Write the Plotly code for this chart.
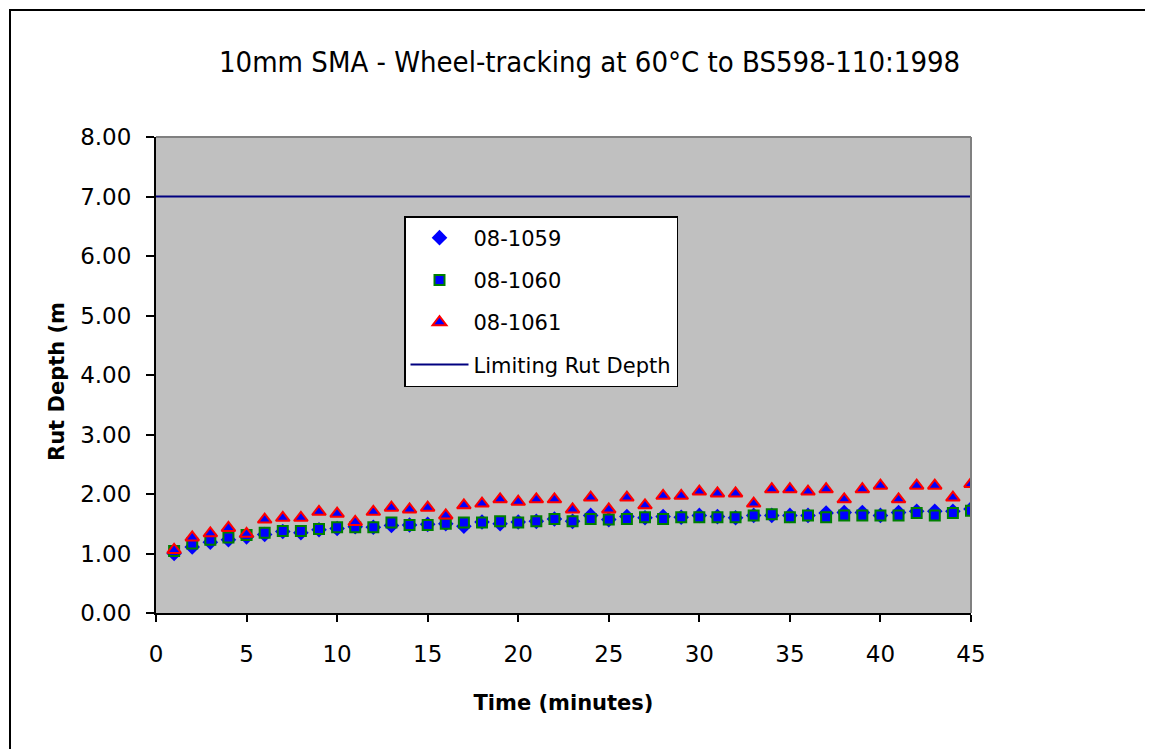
import plotly.graph_objects as go

minutes = list(range(1, 46))
s1059 = [1.00, 1.11, 1.19, 1.23, 1.28, 1.32, 1.37, 1.35, 1.40, 1.42, 1.45, 1.44, 1.47, 1.48, 1.49,
         1.50, 1.46, 1.53, 1.50, 1.53, 1.54, 1.58, 1.54, 1.64, 1.57, 1.62, 1.60, 1.62, 1.61, 1.64,
         1.62, 1.60, 1.64, 1.64, 1.64, 1.64, 1.68, 1.69, 1.69, 1.64, 1.69, 1.71, 1.71, 1.71, 1.75]
s1060 = [1.04, 1.17, 1.23, 1.27, 1.31, 1.35, 1.38, 1.38, 1.41, 1.44, 1.44, 1.44, 1.52, 1.48, 1.48,
         1.50, 1.52, 1.52, 1.54, 1.52, 1.54, 1.58, 1.54, 1.58, 1.57, 1.58, 1.61, 1.58, 1.61, 1.61,
         1.61, 1.61, 1.64, 1.66, 1.61, 1.64, 1.61, 1.64, 1.64, 1.64, 1.64, 1.68, 1.64, 1.68, 1.72]
s1061 = [1.06, 1.27, 1.34, 1.43, 1.33, 1.57, 1.60, 1.60, 1.70, 1.67, 1.53, 1.70, 1.77, 1.74, 1.77,
         1.64, 1.81, 1.84, 1.91, 1.87, 1.91, 1.91, 1.74, 1.94, 1.74, 1.94, 1.81, 1.97, 1.97, 2.04,
         2.01, 2.01, 1.84, 2.08, 2.08, 2.04, 2.08, 1.91, 2.08, 2.14, 1.91, 2.14, 2.14, 1.94, 2.17]
limit_x = [0, 45]
limit_y = [7.0, 7.0]
x_ticks = [0, 5, 10, 15, 20, 25, 30, 35, 40, 45]
y_ticks = [0, 1, 2, 3, 4, 5, 6, 7, 8]
y_ticktext = ["0.00", "1.00", "2.00", "3.00", "4.00", "5.00", "6.00", "7.00", "8.00"]

FONT = "DejaVu Sans"
W, H = 1153, 749
OFF = 8  # page body margin
# target plot area in page pixels: x 156-971, y 137-613
L = 156 - OFF
T = 137 - OFF
R = W - (971 - OFF)
B = H - (613 - OFF)
pw, ph = W - L - R, H - T - B

def px(xp):
    return (xp - OFF - L) / pw

def py(yp):
    return (H - B - (yp - OFF)) / ph

fig = go.Figure()
fig.add_trace(go.Scatter(x=minutes, y=s1059, mode="markers", name="08-1059", legendgroup="a",
                         marker=dict(symbol="diamond", size=12, color="#0000FF",
                                     line=dict(width=0))))
fig.add_trace(go.Scatter(x=minutes, y=s1060, mode="markers", name="08-1060", legendgroup="b",
                         marker=dict(symbol="square", size=10, color="#0000FF",
                                     line=dict(width=2, color="#008000"))))
fig.add_trace(go.Scatter(x=minutes, y=s1061, mode="markers", name="08-1061", legendgroup="c",
                         marker=dict(symbol="triangle-up", size=12, color="#0000FF",
                                     line=dict(width=2, color="#FF0000"))))
fig.add_trace(go.Scatter(x=limit_x, y=limit_y, mode="lines", name="Limiting Rut Depth",
                         legendgroup="d", line=dict(color="#000080", width=2)))

fig.update_layout(
    width=W, height=H,
    margin=dict(l=L, r=R, t=T, b=B),
    paper_bgcolor="white",
    plot_bgcolor="#C0C0C0",
    font=dict(family=FONT, color="black", size=20),
    showlegend=True,
    legend=dict(x=px(404), y=py(216), xanchor="left", yanchor="top",
                bgcolor="white", bordercolor="black", borderwidth=1.5,
                font=dict(family=FONT, size=21, color="black"),
                tracegroupgap=12, itemwidth=58),
    xaxis=dict(range=[0, 45], tickmode="array", tickvals=x_ticks,
               showgrid=False, zeroline=False, showline=True, linecolor="black",
               linewidth=2, ticks="outside", ticklen=7, tickwidth=2, tickcolor="black",
               tickfont=dict(family=FONT, size=23), ticklabelstandoff=12,
               title=dict(text="<b>Time (minutes)</b>", font=dict(family=FONT, size=21),
                          standoff=30)),
    yaxis=dict(range=[0, 8], tickmode="array", tickvals=y_ticks, ticktext=y_ticktext,
               showgrid=False, zeroline=False, showline=True, linecolor="black",
               linewidth=2, ticks="outside", ticklen=8, tickwidth=2, tickcolor="black",
               tickfont=dict(family=FONT, size=23), ticklabelstandoff=10),
    shapes=[
        dict(type="line", xref="paper", yref="paper", x0=0, x1=1, y0=1, y1=1,
             line=dict(color="#808080", width=2)),
        dict(type="line", xref="paper", yref="paper", x0=1, x1=1, y0=0, y1=1,
             line=dict(color="#808080", width=2)),
        dict(type="rect", xref="paper", yref="paper", x0=px(10), x1=px(1175),
             y0=py(775), y1=py(10), line=dict(color="black", width=2),
             fillcolor="rgba(0,0,0,0)", layer="below"),
    ],
    annotations=[
        dict(text="10mm SMA - Wheel-tracking at 60°C to BS598-110:1998", xref="paper", yref="paper",
             x=px(589), y=py(62), xanchor="center", yanchor="middle", showarrow=False,
             font=dict(family="DejaVu Sans Condensed", size=29, color="black")),
        dict(text="<b>Rut Depth (m</b>", xref="paper", yref="paper", x=px(57), y=py(382),
             xanchor="center", yanchor="middle", textangle=-90, showarrow=False,
             font=dict(family=FONT, size=21, color="black")),
    ],
)

fig.write_html("out.html")
